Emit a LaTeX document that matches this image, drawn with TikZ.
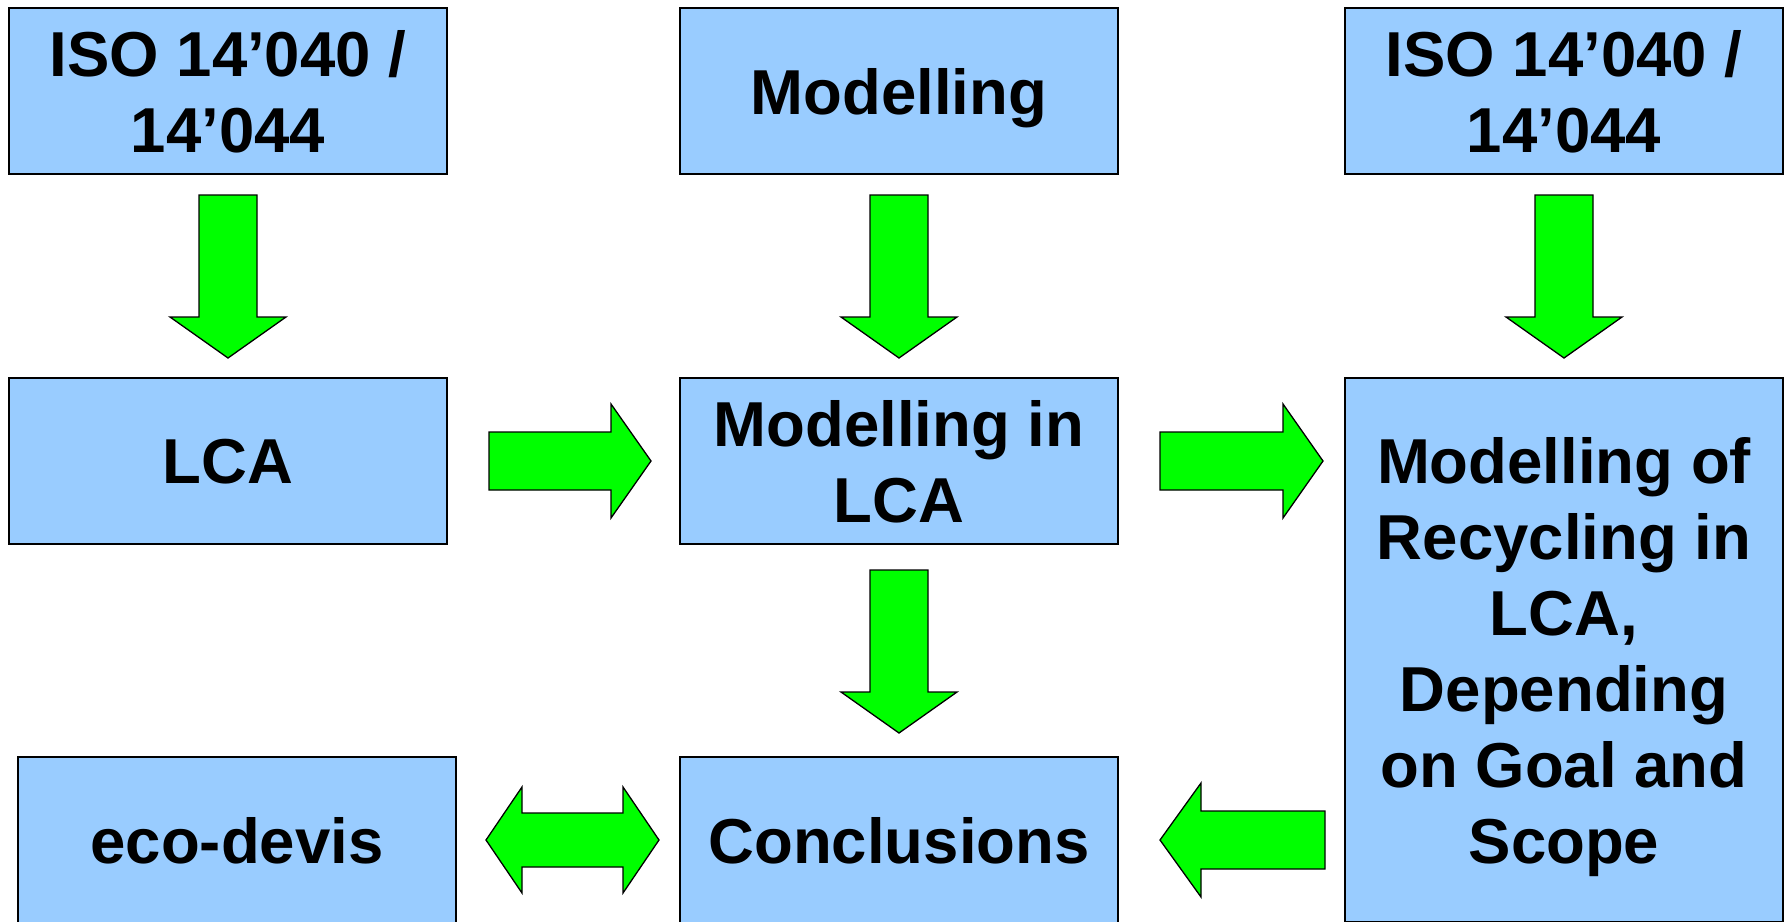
\documentclass[tikz,border=0pt]{standalone}
\usepackage{fontspec}
\setmainfont{Liberation Sans}
\usetikzlibrary{calc}
\definecolor{boxblue}{HTML}{99CCFF}
\definecolor{arrowgreen}{HTML}{00FF00}
\tikzset{
  box/.style={draw=black, line width=2pt, fill=boxblue, inner sep=0pt,
    align=center, minimum width=438pt, minimum height=166pt, text depth=0pt,
    font=\fontsize{63.5}{76}\selectfont\bfseries},
  blockarrow/.style={draw=black, line width=1.3pt, fill=arrowgreen, line join=miter},
}
% block arrow pointing down: #1 = middle of the tail, #2 = tip
\newcommand\fatdown[2]{\path[blockarrow] let \p1=(#1), \p2=(#2) in
  (\x1-29pt,\y1) -- (\x1+29pt,\y1) -- (\x1+29pt,\y2+41pt) -- (\x1+58pt,\y2+41pt)
  -- (\x1,\y2) -- (\x1-58pt,\y2+41pt) -- (\x1-29pt,\y2+41pt) -- cycle;}
% block arrow pointing right: #1 = middle of the tail, #2 = tip
\newcommand\fatright[2]{\path[blockarrow] let \p1=(#1), \p2=(#2) in
  (\x1,\y1+29pt) -- (\x2-40pt,\y1+29pt) -- (\x2-40pt,\y1+57pt) -- (\x2,\y1)
  -- (\x2-40pt,\y1-57pt) -- (\x2-40pt,\y1-29pt) -- (\x1,\y1-29pt) -- cycle;}
% block arrow pointing left: #1 = middle of the tail, #2 = tip
\newcommand\fatleft[2]{\path[blockarrow] let \p1=(#1), \p2=(#2) in
  (\x1,\y1+29pt) -- (\x2+41pt,\y1+29pt) -- (\x2+41pt,\y1+57pt) -- (\x2,\y1)
  -- (\x2+41pt,\y1-57pt) -- (\x2+41pt,\y1-29pt) -- (\x1,\y1-29pt) -- cycle;}
% double-headed block arrow: #1 = left tip, #2 = right tip
\newcommand\fatboth[2]{\path[blockarrow] let \p1=(#1), \p2=(#2) in
  (\x1,\y1) -- (\x1+36pt,\y1+53pt) -- (\x1+36pt,\y1+27pt) -- (\x2-36pt,\y1+27pt)
  -- (\x2-36pt,\y1+53pt) -- (\x2,\y1) -- (\x2-36pt,\y1-53pt) -- (\x2-36pt,\y1-27pt)
  -- (\x1+36pt,\y1-27pt) -- (\x1+36pt,\y1-53pt) -- cycle;}

\begin{document}
\begin{tikzpicture}[x=1pt, y=-1pt]
  \clip (0,0) rectangle (1791,921);
  \fill[white] (0,0) rectangle (1791,921);

  % boxes
  \node[box] (iso1) at (228,91) {ISO 14’040 /\\14’044};
  \node[box] (mod)  at (899,91) {Modelling};
  \node[box] (iso2) at (1564,91) {ISO 14’040 /\\14’044};
  \node[box] (lca)  at (228,461) {LCA};
  \node[box] (mlca) at (899,461) {Modelling in\\LCA};
  \node[box, minimum height=544pt] (rec) at (1564,650)
    {Modelling of\\Recycling in\\LCA,\\Depending\\on Goal and\\Scope};
  \node[box] (eco)    at (237,840) {eco-devis};
  \node[box] (concl)  at (899,840) {Conclusions};

  % arrow end points
  \coordinate (d1s) at ($(iso1.south)+(0,20)$);
  \coordinate (d1e) at ($(lca.north)+(0,-19)$);
  \coordinate (d2s) at ($(mod.south)+(0,20)$);
  \coordinate (d2e) at ($(mlca.north)+(0,-19)$);
  \coordinate (d3s) at ($(iso2.south)+(0,20)$);
  \coordinate (d3e) at ($(rec.north)+(0,-19)$);
  \coordinate (d4s) at ($(mlca.south)+(0,25)$);
  \coordinate (d4e) at ($(concl.north)+(0,-23)$);
  \coordinate (r1s) at ($(lca.east)+(41,0)$);
  \coordinate (r1e) at ($(mlca.west)+(-28,0)$);
  \coordinate (r2s) at ($(mlca.east)+(41,0)$);
  \coordinate (r2e) at ($(mlca.east -| rec.west)+(-21,0)$);
  \coordinate (l1s) at ($(concl.east -| rec.west)+(-19,0)$);
  \coordinate (l1e) at ($(concl.east)+(41,0)$);
  \coordinate (b1l) at ($(eco.east)+(29,0)$);
  \coordinate (b1r) at ($(concl.west)+(-20,0)$);

  % connectors
  \fatdown{d1s}{d1e}
  \fatdown{d2s}{d2e}
  \fatdown{d3s}{d3e}
  \fatdown{d4s}{d4e}
  \fatright{r1s}{r1e}
  \fatright{r2s}{r2e}
  \fatleft{l1s}{l1e}
  \fatboth{b1l}{b1r}
\end{tikzpicture}
\end{document}
